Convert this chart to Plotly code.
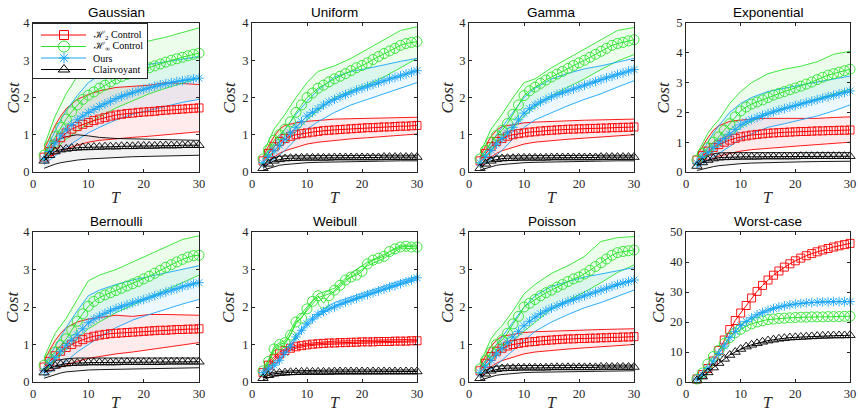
import plotly.graph_objects as go
from plotly.subplots import make_subplots

# ---------------- data ----------------
T = list(range(2, 31))                       # marker/time grid for the mean curves
TB = [2, 3, 4, 5, 6, 8, 10, 12, 15, 18, 21, 24, 27, 30]   # grid of the band outlines

titles = ["Gaussian", "Uniform", "Gamma", "Exponential",
          "Bernoulli", "Weibull", "Poisson", "Worst-case"]
series_names = ["ℋ<sub>2</sub> Control", "ℋ<sub>∞</sub> Control", "Ours", "Clairvoyant"]
x_ticks = [0, 10, 20, 30]

# Gaussian
gau_h2 = [0.40,0.55,0.75,0.92,1.05,1.15,1.22,1.28,1.33,1.38,1.42,1.46,1.50,1.53,1.55,1.57,1.58,1.60,1.61,1.62,1.63,1.65,1.66,1.67,1.68,1.69,1.70,1.71,1.72]
gau_hi = [0.45,0.70,0.95,1.20,1.42,1.62,1.80,1.95,2.06,2.15,2.25,2.33,2.42,2.50,2.56,2.62,2.67,2.72,2.76,2.80,2.85,2.90,2.95,3.00,3.04,3.08,3.12,3.16,3.19]
gau_ou = [0.35,0.55,0.78,0.97,1.13,1.27,1.40,1.50,1.60,1.68,1.76,1.83,1.90,1.97,2.03,2.08,2.13,2.18,2.22,2.26,2.30,2.34,2.37,2.40,2.43,2.45,2.48,2.50,2.52]
gau_cl = [0.30,0.45,0.55,0.60,0.62,0.64,0.65,0.66,0.66,0.67,0.67,0.68,0.68,0.68,0.69,0.69,0.69,0.70,0.70,0.70,0.70,0.71,0.71,0.71,0.71,0.72,0.72,0.72,0.72]
gau_h2_up = [0.60,0.95,1.25,1.50,1.70,1.95,2.08,2.18,2.27,2.30,2.33,2.40,2.38,2.35]
gau_h2_lo = [0.30,0.40,0.48,0.55,0.62,0.72,0.80,0.85,0.90,0.93,0.96,1.00,1.04,1.08]
gau_hi_up = [0.70,1.10,1.50,1.80,2.10,2.57,2.90,3.15,3.35,3.45,3.52,3.62,3.75,3.87]
gau_hi_lo = [0.35,0.50,0.62,0.75,0.88,1.10,1.30,1.48,1.72,1.92,2.10,2.25,2.38,2.52]
gau_ou_up = [0.50,0.80,1.10,1.40,1.65,2.05,2.40,2.60,2.75,2.82,2.88,2.95,3.03,3.10]
gau_ou_lo = [0.20,0.32,0.44,0.55,0.66,0.86,1.05,1.20,1.40,1.55,1.66,1.78,1.87,1.95]
gau_cl_up = [0.45,0.70,0.82,0.90,0.95,1.00,0.97,0.93,0.90,0.89,0.88,0.87,0.86,0.85]
gau_cl_lo = [0.10,0.16,0.21,0.25,0.28,0.32,0.35,0.37,0.39,0.41,0.42,0.43,0.44,0.45]

# Uniform
uni_h2 = [0.30,0.50,0.68,0.82,0.90,0.96,1.00,1.03,1.05,1.07,1.09,1.11,1.12,1.13,1.14,1.15,1.16,1.17,1.18,1.19,1.19,1.20,1.21,1.21,1.22,1.23,1.23,1.24,1.25]
uni_hi = [0.35,0.60,0.85,1.00,1.15,1.35,1.60,1.80,2.00,2.12,2.25,2.33,2.42,2.50,2.57,2.64,2.72,2.80,2.86,2.93,3.02,3.10,3.18,3.25,3.32,3.40,3.45,3.48,3.50]
uni_ou = [0.25,0.42,0.57,0.72,0.88,1.05,1.20,1.35,1.50,1.60,1.70,1.80,1.88,1.95,2.02,2.08,2.14,2.20,2.25,2.30,2.35,2.40,2.45,2.50,2.54,2.58,2.63,2.68,2.72]
uni_cl = [0.10,0.22,0.30,0.34,0.36,0.37,0.37,0.38,0.38,0.38,0.38,0.38,0.38,0.39,0.39,0.39,0.39,0.39,0.39,0.39,0.39,0.39,0.40,0.40,0.40,0.40,0.40,0.40,0.40]
uni_h2_up = [0.40,0.70,0.95,1.15,1.25,1.32,1.36,1.39,1.42,1.43,1.44,1.45,1.46,1.47]
uni_h2_lo = [0.20,0.30,0.40,0.50,0.57,0.67,0.75,0.80,0.85,0.89,0.92,0.96,0.99,1.02]
uni_hi_up = [0.50,0.85,1.15,1.35,1.55,2.00,2.40,2.70,2.85,3.05,3.30,3.55,3.80,3.90]
uni_hi_lo = [0.25,0.40,0.52,0.65,0.78,1.08,1.40,1.65,2.00,2.18,2.35,2.55,2.80,3.05]
uni_ou_up = [0.35,0.55,0.75,0.95,1.15,1.55,1.90,2.20,2.55,2.70,2.78,2.88,2.97,3.05]
uni_ou_lo = [0.15,0.25,0.35,0.45,0.58,0.88,1.15,1.35,1.60,1.80,1.95,2.10,2.25,2.40]
uni_cl_up = [0.15,0.30,0.38,0.42,0.43,0.44,0.44,0.44,0.44,0.45,0.45,0.45,0.45,0.45]
uni_cl_lo = [0.05,0.10,0.14,0.18,0.20,0.23,0.25,0.26,0.27,0.28,0.29,0.29,0.30,0.30]

# Gamma
gam_h2 = [0.30,0.50,0.68,0.82,0.90,0.96,1.00,1.03,1.05,1.07,1.08,1.10,1.11,1.12,1.13,1.14,1.15,1.15,1.16,1.16,1.17,1.17,1.18,1.18,1.19,1.19,1.20,1.20,1.21]
gam_hi = [0.35,0.58,0.80,0.98,1.12,1.30,1.55,1.80,2.05,2.18,2.28,2.38,2.47,2.55,2.63,2.70,2.78,2.86,2.93,3.00,3.08,3.16,3.24,3.32,3.40,3.45,3.48,3.52,3.55]
gam_ou = [0.25,0.42,0.58,0.75,0.90,1.05,1.20,1.40,1.58,1.70,1.80,1.88,1.95,2.02,2.08,2.13,2.18,2.23,2.28,2.33,2.38,2.43,2.48,2.53,2.57,2.62,2.66,2.71,2.75]
gam_cl = [0.10,0.22,0.30,0.34,0.36,0.37,0.37,0.38,0.38,0.38,0.38,0.38,0.38,0.39,0.39,0.39,0.39,0.39,0.39,0.39,0.39,0.39,0.40,0.40,0.40,0.40,0.40,0.40,0.40]
gam_h2_up = [0.40,0.70,0.95,1.12,1.22,1.28,1.32,1.34,1.36,1.38,1.39,1.40,1.41,1.42]
gam_h2_lo = [0.20,0.30,0.40,0.50,0.57,0.67,0.75,0.80,0.85,0.88,0.91,0.94,0.97,1.00]
gam_hi_up = [0.50,0.85,1.15,1.35,1.55,2.00,2.40,2.50,2.80,3.05,3.30,3.55,3.80,3.88]
gam_hi_lo = [0.25,0.40,0.55,0.70,0.82,1.15,1.50,1.75,2.05,2.28,2.50,2.75,2.98,3.15]
gam_ou_up = [0.35,0.55,0.78,1.00,1.20,1.60,2.00,2.25,2.50,2.65,2.77,2.85,2.95,3.05]
gam_ou_lo = [0.15,0.25,0.35,0.45,0.58,0.88,1.20,1.40,1.60,1.78,1.95,2.10,2.28,2.45]
gam_cl_up = [0.15,0.30,0.38,0.42,0.43,0.44,0.44,0.44,0.44,0.45,0.45,0.45,0.45,0.45]
gam_cl_lo = [0.05,0.10,0.14,0.18,0.20,0.23,0.25,0.26,0.27,0.28,0.29,0.29,0.30,0.30]

# Exponential
exp_h2 = [0.40,0.55,0.70,0.82,0.92,1.00,1.07,1.13,1.18,1.21,1.24,1.26,1.28,1.30,1.31,1.32,1.33,1.34,1.35,1.36,1.36,1.37,1.38,1.38,1.39,1.39,1.40,1.40,1.41]
exp_hi = [0.40,0.62,0.82,1.00,1.18,1.40,1.62,1.85,2.05,2.18,2.28,2.35,2.42,2.50,2.58,2.64,2.70,2.76,2.82,2.88,2.95,3.02,3.10,3.18,3.25,3.30,3.35,3.40,3.45]
exp_ou = [0.30,0.48,0.65,0.82,0.98,1.12,1.27,1.43,1.58,1.68,1.76,1.83,1.90,1.96,2.02,2.08,2.13,2.18,2.23,2.28,2.33,2.38,2.43,2.48,2.53,2.57,2.62,2.67,2.72]
exp_cl = [0.20,0.32,0.40,0.45,0.48,0.49,0.50,0.50,0.51,0.51,0.51,0.51,0.52,0.52,0.52,0.52,0.52,0.52,0.52,0.53,0.53,0.53,0.53,0.53,0.53,0.53,0.53,0.53,0.53]
exp_h2_up = [0.55,0.85,1.15,1.40,1.55,1.70,1.75,1.78,1.80,1.80,1.78,1.80,1.83,1.85]
exp_h2_lo = [0.25,0.32,0.40,0.48,0.53,0.62,0.70,0.75,0.80,0.84,0.88,0.92,0.96,1.00]
exp_hi_up = [0.60,0.95,1.30,1.55,1.75,2.30,2.70,3.00,3.30,3.45,3.55,3.70,3.95,4.05]
exp_hi_lo = [0.30,0.42,0.55,0.70,0.85,1.20,1.50,1.70,1.95,2.12,2.28,2.45,2.62,2.78]
exp_ou_up = [0.45,0.70,1.00,1.30,1.55,2.00,2.30,2.50,2.70,2.82,2.92,3.02,3.12,3.22]
exp_ou_lo = [0.15,0.25,0.38,0.50,0.62,0.88,1.10,1.28,1.50,1.62,1.74,1.88,2.05,2.25]
exp_cl_up = [0.35,0.50,0.58,0.62,0.64,0.65,0.65,0.65,0.65,0.65,0.65,0.65,0.65,0.65]
exp_cl_lo = [0.05,0.10,0.14,0.18,0.21,0.25,0.28,0.30,0.32,0.33,0.34,0.35,0.35,0.36]

# Bernoulli
ber_h2 = [0.40,0.55,0.70,0.82,0.92,1.00,1.07,1.13,1.18,1.22,1.25,1.27,1.29,1.30,1.31,1.32,1.33,1.34,1.35,1.36,1.37,1.38,1.38,1.39,1.40,1.40,1.41,1.41,1.42]
ber_hi = [0.45,0.62,0.80,0.98,1.15,1.38,1.62,1.82,2.02,2.15,2.25,2.32,2.38,2.44,2.50,2.56,2.62,2.68,2.75,2.82,2.90,2.98,3.06,3.13,3.20,3.27,3.33,3.37,3.38]
ber_ou = [0.30,0.48,0.65,0.82,0.98,1.12,1.26,1.42,1.58,1.68,1.76,1.83,1.90,1.96,2.01,2.06,2.11,2.16,2.20,2.25,2.30,2.35,2.40,2.45,2.49,2.54,2.58,2.62,2.65]
ber_cl = [0.25,0.36,0.43,0.47,0.49,0.50,0.51,0.51,0.52,0.52,0.52,0.52,0.52,0.52,0.53,0.53,0.53,0.53,0.53,0.53,0.53,0.53,0.54,0.54,0.54,0.54,0.54,0.54,0.54]
ber_h2_up = [0.55,0.85,1.10,1.30,1.45,1.60,1.68,1.72,1.78,1.75,1.80,1.80,1.78,1.78]
ber_h2_lo = [0.25,0.30,0.35,0.40,0.45,0.55,0.63,0.68,0.75,0.80,0.86,0.92,0.98,1.05]
ber_hi_up = [0.65,1.00,1.30,1.50,1.70,2.20,2.70,2.85,3.00,3.20,3.40,3.60,3.80,3.90]
ber_hi_lo = [0.30,0.45,0.58,0.72,0.85,1.15,1.42,1.60,1.85,2.05,2.25,2.45,2.65,2.85]
ber_ou_up = [0.45,0.70,0.95,1.20,1.45,1.90,2.30,2.45,2.60,2.72,2.82,2.92,3.02,3.10]
ber_ou_lo = [0.15,0.25,0.35,0.45,0.55,0.80,1.00,1.20,1.45,1.65,1.80,1.95,2.08,2.20]
ber_cl_up = [0.35,0.50,0.57,0.60,0.62,0.64,0.64,0.64,0.64,0.64,0.64,0.64,0.64,0.64]
ber_cl_lo = [0.10,0.15,0.20,0.24,0.27,0.30,0.32,0.33,0.34,0.35,0.36,0.37,0.37,0.38]

# Weibull
wei_h2 = [0.25,0.45,0.62,0.75,0.84,0.90,0.94,0.97,0.99,1.01,1.02,1.03,1.04,1.04,1.05,1.05,1.06,1.06,1.07,1.07,1.07,1.08,1.08,1.08,1.09,1.09,1.09,1.10,1.10]
wei_hi = [0.30,0.55,0.88,1.00,1.05,1.25,1.60,1.70,1.95,2.15,2.30,2.10,2.30,2.45,2.58,2.72,2.80,2.85,2.95,3.15,3.25,3.30,3.35,3.48,3.55,3.60,3.62,3.60,3.60]
wei_ou = [0.25,0.35,0.45,0.58,0.78,0.95,1.20,1.38,1.55,1.68,1.80,1.88,1.95,2.00,2.07,2.13,2.18,2.23,2.28,2.33,2.38,2.43,2.48,2.53,2.57,2.62,2.67,2.72,2.78]
wei_cl = [0.10,0.18,0.22,0.24,0.25,0.26,0.26,0.27,0.27,0.27,0.27,0.27,0.27,0.28,0.28,0.28,0.28,0.28,0.28,0.28,0.28,0.28,0.28,0.28,0.28,0.28,0.28,0.28,0.28]
wei_h2_up = [0.30,0.52,0.68,0.80,0.88,0.98,1.03,1.06,1.09,1.10,1.11,1.12,1.13,1.14]
wei_h2_lo = [0.20,0.40,0.56,0.70,0.80,0.90,0.96,0.99,1.01,1.03,1.04,1.05,1.06,1.07]
wei_hi_up = [0.35,0.60,0.93,1.05,1.10,1.65,2.00,2.35,2.50,2.90,3.20,3.40,3.65,3.65]
wei_hi_lo = [0.25,0.50,0.83,0.95,1.00,1.55,1.90,2.25,2.40,2.80,3.10,3.30,3.57,3.55]
wei_ou_up = [0.30,0.40,0.50,0.63,0.83,1.25,1.60,1.85,2.12,2.27,2.42,2.57,2.70,2.82]
wei_ou_lo = [0.20,0.30,0.40,0.53,0.73,1.15,1.50,1.75,2.02,2.17,2.32,2.47,2.60,2.72]
wei_cl_up = [0.14,0.22,0.26,0.28,0.29,0.30,0.31,0.31,0.32,0.32,0.32,0.32,0.32,0.32]
wei_cl_lo = [0.06,0.12,0.16,0.18,0.19,0.20,0.21,0.21,0.21,0.21,0.22,0.22,0.22,0.22]

# Poisson
poi_h2 = [0.30,0.50,0.68,0.82,0.90,0.96,1.00,1.03,1.05,1.07,1.08,1.10,1.11,1.12,1.13,1.14,1.15,1.15,1.16,1.16,1.17,1.17,1.18,1.18,1.19,1.19,1.20,1.20,1.21]
poi_hi = [0.35,0.58,0.80,1.00,1.12,1.30,1.55,1.75,2.00,2.10,2.20,2.30,2.38,2.45,2.53,2.60,2.68,2.75,2.80,2.88,2.98,3.08,3.18,3.28,3.38,3.45,3.48,3.50,3.52]
poi_ou = [0.25,0.42,0.58,0.75,0.90,1.05,1.20,1.35,1.50,1.62,1.73,1.82,1.90,1.97,2.03,2.09,2.15,2.20,2.25,2.30,2.35,2.40,2.45,2.50,2.55,2.60,2.64,2.68,2.72]
poi_cl = [0.10,0.22,0.30,0.34,0.36,0.37,0.37,0.38,0.38,0.38,0.38,0.38,0.38,0.39,0.39,0.39,0.39,0.39,0.39,0.39,0.39,0.39,0.40,0.40,0.40,0.40,0.40,0.40,0.40]
poi_h2_up = [0.40,0.70,0.95,1.12,1.22,1.28,1.32,1.34,1.36,1.38,1.39,1.40,1.41,1.42]
poi_h2_lo = [0.20,0.30,0.40,0.50,0.57,0.67,0.75,0.80,0.85,0.88,0.91,0.94,0.97,1.00]
poi_hi_up = [0.50,0.85,1.15,1.35,1.50,1.90,2.35,2.60,2.90,3.10,3.35,3.75,3.85,3.88]
poi_hi_lo = [0.25,0.40,0.55,0.70,0.82,1.10,1.35,1.60,1.95,2.18,2.40,2.65,2.92,3.12]
poi_ou_up = [0.35,0.55,0.78,1.00,1.20,1.60,2.00,2.30,2.55,2.68,2.80,2.88,2.97,3.05]
poi_ou_lo = [0.15,0.25,0.35,0.45,0.58,0.85,1.10,1.35,1.60,1.80,1.98,2.12,2.28,2.45]
poi_cl_up = [0.15,0.30,0.38,0.42,0.43,0.44,0.44,0.44,0.44,0.45,0.45,0.45,0.45,0.45]
poi_cl_lo = [0.05,0.10,0.14,0.18,0.20,0.23,0.25,0.26,0.27,0.28,0.29,0.29,0.30,0.30]

# Worst-case (no bands)
wor_h2 = [1.0,2.5,4.5,7.0,10.5,14.0,17.5,20.5,23.0,25.5,28.0,30.2,32.2,34.0,35.6,37.0,38.3,39.4,40.4,41.3,42.1,42.8,43.4,44.0,44.5,45.0,45.4,45.8,46.2]
wor_hi = [1.0,3.0,6.0,8.5,10.5,12.8,14.8,16.4,17.6,18.6,19.4,20.0,20.4,20.8,21.0,21.2,21.3,21.4,21.5,21.6,21.6,21.7,21.7,21.7,21.8,21.8,21.8,21.9,21.9]
wor_ou = [1.0,2.5,4.5,7.0,9.5,12.0,14.8,16.8,18.8,20.2,21.4,22.4,23.2,23.9,24.5,25.0,25.4,25.7,26.0,26.2,26.4,26.5,26.6,26.7,26.7,26.8,26.8,26.8,26.8]
wor_cl = [0.5,1.8,3.2,4.8,6.3,7.7,9.0,10.0,11.0,11.8,12.4,12.9,13.4,13.8,14.1,14.4,14.6,14.8,14.9,15.0,15.1,15.2,15.3,15.4,15.4,15.5,15.5,15.5,15.6]

y_max = [4, 4, 4, 5, 4, 4, 4, 50]
y_dtick = [1, 1, 1, 1, 1, 1, 1, 10]

means = [
    [gau_h2, gau_hi, gau_ou, gau_cl], [uni_h2, uni_hi, uni_ou, uni_cl],
    [gam_h2, gam_hi, gam_ou, gam_cl], [exp_h2, exp_hi, exp_ou, exp_cl],
    [ber_h2, ber_hi, ber_ou, ber_cl], [wei_h2, wei_hi, wei_ou, wei_cl],
    [poi_h2, poi_hi, poi_ou, poi_cl], [wor_h2, wor_hi, wor_ou, wor_cl],
]
bands = [
    [(gau_h2_up, gau_h2_lo), (gau_hi_up, gau_hi_lo), (gau_ou_up, gau_ou_lo), (gau_cl_up, gau_cl_lo)],
    [(uni_h2_up, uni_h2_lo), (uni_hi_up, uni_hi_lo), (uni_ou_up, uni_ou_lo), (uni_cl_up, uni_cl_lo)],
    [(gam_h2_up, gam_h2_lo), (gam_hi_up, gam_hi_lo), (gam_ou_up, gam_ou_lo), (gam_cl_up, gam_cl_lo)],
    [(exp_h2_up, exp_h2_lo), (exp_hi_up, exp_hi_lo), (exp_ou_up, exp_ou_lo), (exp_cl_up, exp_cl_lo)],
    [(ber_h2_up, ber_h2_lo), (ber_hi_up, ber_hi_lo), (ber_ou_up, ber_ou_lo), (ber_cl_up, ber_cl_lo)],
    [(wei_h2_up, wei_h2_lo), (wei_hi_up, wei_hi_lo), (wei_ou_up, wei_ou_lo), (wei_cl_up, wei_cl_lo)],
    [(poi_h2_up, poi_h2_lo), (poi_hi_up, poi_hi_lo), (poi_ou_up, poi_ou_lo), (poi_cl_up, poi_cl_lo)],
    None,
]

# ---------------- style / layout ----------------
colors = ["rgb(255,0,0)", "rgb(45,228,45)", "rgb(25,165,250)", "rgb(0,0,0)"]
fills = ["rgba(255,0,0,0.08)", "rgba(45,228,45,0.09)", "rgba(25,165,250,0.08)", "rgba(0,0,0,0.05)"]
symbols = ["square-open", "circle-open", "asterisk-open", "triangle-up-open"]
msizes = [8, 10, 8, 9]

W, H = 858, 413
col_px = [(33, 199), (252, 417), (469, 634), (686, 850)]   # window pixels
row_px = [(23, 172), (232, 382)]
ylab_px = [13, 229, 447, 663, 12, 228, 447, 658]
SERIF = "Liberation Serif"
AX = "#262626"


def fx(X):
    return X / W


def fy(Y):
    return 1 - Y / H


fig = make_subplots(rows=2, cols=4)

for p in range(8):
    r, c = p // 4 + 1, p % 4 + 1
    if bands[p] is not None:
        for s in range(4):
            up, lo = bands[p][s]
            fig.add_trace(go.Scatter(x=TB + TB[::-1], y=up + lo[::-1], fill="toself",
                                     fillcolor=fills[s], line=dict(width=0), mode="lines",
                                     hoverinfo="skip", showlegend=False), row=r, col=c)
        for s in range(4):
            up, lo = bands[p][s]
            for yy in (up, lo):
                fig.add_trace(go.Scatter(x=TB, y=yy, mode="lines",
                                         line=dict(color=colors[s], width=0.9),
                                         hoverinfo="skip", showlegend=False), row=r, col=c)
    for s in range(4):
        fig.add_trace(go.Scatter(x=T, y=means[p][s], mode="lines+markers", name=series_names[s],
                                 line=dict(color=colors[s], width=1),
                                 marker=dict(symbol=symbols[s], size=msizes[s],
                                             color=colors[s], line=dict(width=0.9, color=colors[s])),
                                 cliponaxis=False, showlegend=False), row=r, col=c)

for p in range(8):
    i = p + 1
    r, c = p // 4, p % 4
    x0, x1 = col_px[c]
    y0, y1 = row_px[r]
    xd = [fx(x0), fx(x1)]
    yd = [fy(y1), fy(y0)]
    fig.layout[f"xaxis{i}"].update(
        domain=xd, range=[0, 30], tickvals=x_ticks, ticks="inside", ticklen=3,
        tickcolor=AX, showline=True, linecolor=AX, linewidth=0.8, mirror="ticks",
        showgrid=False, zeroline=False, automargin=False,
        tickfont=dict(family=SERIF, size=12.5, color=AX))
    fig.layout[f"yaxis{i}"].update(
        domain=yd, range=[0, y_max[p]], dtick=y_dtick[p], ticks="inside", ticklen=3,
        tickcolor=AX, showline=True, linecolor=AX, linewidth=0.8, mirror="ticks",
        showgrid=False, zeroline=False, automargin=False,
        tickfont=dict(family=SERIF, size=12.5, color=AX))
    fig.add_annotation(text=titles[p], x=(xd[0] + xd[1]) / 2, y=yd[1], xref="paper", yref="paper",
                       xanchor="center", yanchor="bottom", yshift=1, showarrow=False,
                       font=dict(family="Liberation Sans", size=13.5, color="black"))
    if r == 0:
        t_y, t_anchor = fy(y1 + 25), "middle"
    else:
        t_y, t_anchor = 0, "bottom"
    fig.add_annotation(text="<i>T</i>", x=(xd[0] + xd[1]) / 2, y=t_y,
                       xref="paper", yref="paper", xanchor="center", yanchor=t_anchor,
                       showarrow=False, font=dict(family=SERIF, size=16, color=AX))
    fig.add_annotation(text="<i>Cost</i>", x=fx(ylab_px[p]), y=(yd[0] + yd[1]) / 2,
                       xref="paper", yref="paper", xanchor="center", yanchor="middle",
                       textangle=-90, showarrow=False, font=dict(family=SERIF, size=17, color=AX))

# ----- legend box inside the Gaussian panel (its own small axis, in window pixels) -----
LG_X = (33, 147)
LG_Y = (24, 78)
lg_rows = [35, 46.5, 58, 69.5]
lg_line = (41, 86)
lg_mark = 64
lg_text = 91
fig.update_layout(
    xaxis9=dict(domain=[fx(LG_X[0]), fx(LG_X[1])], range=list(LG_X), anchor="y9",
                showline=True, linecolor=AX, linewidth=0.8, mirror=True, ticks="",
                showticklabels=False, showgrid=False, zeroline=False, fixedrange=True),
    yaxis9=dict(domain=[fy(LG_Y[1]), fy(LG_Y[0])], range=[LG_Y[1], LG_Y[0]], anchor="x9",
                showline=True, linecolor=AX, linewidth=0.8, mirror=True, ticks="",
                showticklabels=False, showgrid=False, zeroline=False, fixedrange=True),
)
for s in range(4):
    fig.add_trace(go.Scatter(x=list(lg_line), y=[lg_rows[s]] * 2, mode="lines",
                             line=dict(color=colors[s], width=1), xaxis="x9", yaxis="y9",
                             hoverinfo="skip", showlegend=False))
    fig.add_trace(go.Scatter(x=[lg_mark], y=[lg_rows[s]], mode="markers", name=series_names[s],
                             marker=dict(symbol=symbols[s], size=msizes[s] + 1, color=colors[s],
                                         line=dict(width=1, color=colors[s])),
                             xaxis="x9", yaxis="y9", hoverinfo="skip", showlegend=False))
    fig.add_annotation(text=series_names[s], x=lg_text, y=lg_rows[s], xref="x9", yref="y9",
                       xanchor="left", yanchor="middle", showarrow=False,
                       font=dict(family=SERIF, size=10, color="black"))

fig.update_layout(
    template="none",
    width=W, height=H, margin=dict(l=0, r=0, t=0, b=0, pad=0),
    paper_bgcolor="white", plot_bgcolor="white", showlegend=False,
)

# the page's default 8px body margin would push the figure off the window
fig.write_html("out.html", config={"displayModeBar": False},
               post_script="document.body.style.margin='0px';")
